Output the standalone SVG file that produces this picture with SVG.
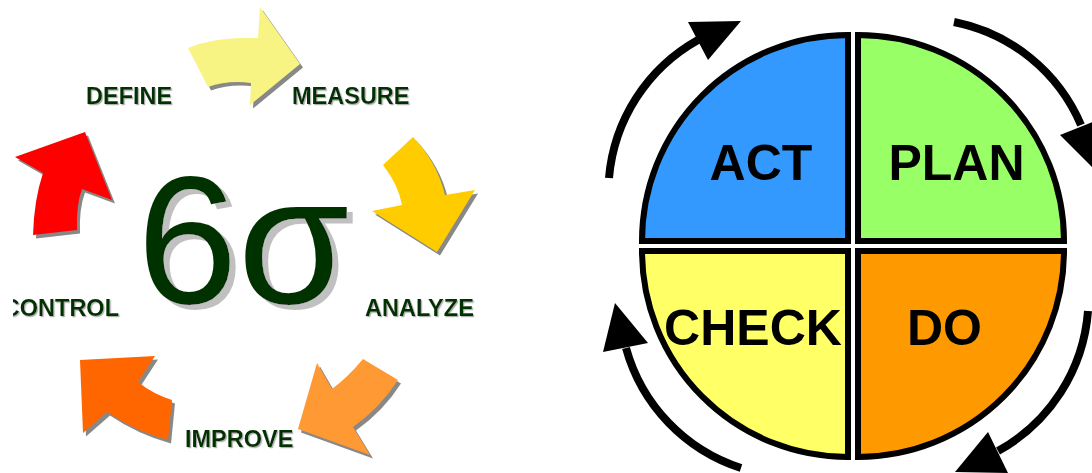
<svg xmlns="http://www.w3.org/2000/svg" xmlns:xlink="http://www.w3.org/1999/xlink" width="1092" height="473" viewBox="0 0 1092 473">
  <style>
    .lbl { font-family: "Liberation Sans", Arial, sans-serif; font-weight: bold; font-size: 23.5px; fill: #003300; filter: url(#lbl-shadow); }
    .sigma { font-family: "Liberation Sans", Arial, sans-serif; font-size: 181px; fill: #003300; filter: url(#sigma-shadow); }
    .quad { stroke: #000; stroke-width: 6; stroke-linejoin: miter; }
    .qlbl { font-family: "Liberation Sans", Arial, sans-serif; font-weight: bold; font-size: 50px; fill: #000; text-anchor: middle; }
    .shaft { fill: none; stroke: #000; stroke-width: 8; }
    .head { fill: #000; }
    .shadow { fill: #888888; }
  </style>
  <defs>
    <filter id="lbl-shadow" x="-10%" y="-20%" width="120%" height="150%">
      <feDropShadow dx="1.2" dy="1.2" stdDeviation="0.3" flood-color="#b0b0b0" flood-opacity="1"/>
    </filter>
    <filter id="sigma-shadow" x="-10%" y="-10%" width="130%" height="130%">
      <feDropShadow dx="6" dy="5" stdDeviation="0" flood-color="#c0c0c0" flood-opacity="1"/>
    </filter>
    <path id="arr-yellow" d="M 188 48 Q 218 36 258 38 L 260 7 L 300 64 L 250 105 L 251 83 Q 228 80 208 87 Z"/>
    <path id="arr-gold" d="M 383 165 L 413 137 Q 437 162 445 195 L 475 190 L 437 252 L 372 211 L 402 205 Q 398 184 383 165 Z"/>
    <path id="arr-lorange" d="M 363 359 L 398 380 Q 380 408 353 427 L 370 455 L 298 429 L 317 363 L 332 389 Q 348 377 363 359 Z"/>
    <path id="arr-dorange" d="M 80 360 L 155 356 L 138 382 Q 153 394 172 400 L 168 440 Q 135 431 107 412 L 83 433 Z"/>
    <path id="arr-red" d="M 33 235 Q 34 200 43 173 L 15 157 L 85 132 L 112 200 L 82 189 Q 76 205 77 230 Z"/>
    <clipPath id="edge-clip">
      <rect x="13" y="0" width="1079" height="473"/>
    </clipPath>
  </defs>

  <rect x="0" y="0" width="1092" height="473" fill="#ffffff"/>

  <!-- Six Sigma: centre symbol -->
  <g id="six-sigma">
    <text class="sigma" x="137" y="303">6σ</text>
  </g>

  <!-- Six Sigma: phase labels -->
  <g id="define">
    <text class="lbl" x="86" y="104">DEFINE</text>
  </g>
  <g id="measure">
    <text class="lbl" x="292" y="104">MEASURE</text>
  </g>
  <g id="analyze">
    <text class="lbl" x="365" y="316">ANALYZE</text>
  </g>
  <g id="improve">
    <text class="lbl" x="185" y="446.5">IMPROVE</text>
  </g>
  <g id="control" clip-path="url(#edge-clip)">
    <text class="lbl" x="119" y="316" text-anchor="end">CONTROL</text>
  </g>

  <!-- PDCA wheel -->
  <g id="act">
    <path class="quad" fill="#3399ff" d="M 848 241 L 848 35 A 206 206 0 0 0 642 241 Z"/>
    <text class="qlbl" x="761" y="180">ACT</text>
  </g>
  <g id="plan">
    <path class="quad" fill="#99ff66" d="M 858 241 L 858 35 A 206 206 0 0 1 1064 241 Z"/>
    <text class="qlbl" x="956.5" y="180">PLAN</text>
  </g>
  <g id="check">
    <path class="quad" fill="#ffff66" d="M 848 251 L 642 251 A 206 206 0 0 0 848 457 Z"/>
    <text class="qlbl" x="753" y="345">CHECK</text>
  </g>
  <g id="do">
    <path class="quad" fill="#ff9900" d="M 858 251 L 1064 251 A 206 206 0 0 1 858 457 Z"/>
    <text class="qlbl" x="944.5" y="345">DO</text>
  </g>

  <g id="connectors">
    <!-- Six Sigma cycle: block arrows with drop shadows -->
    <g transform="translate(3,3.5)" class="shadow">
      <use xlink:href="#arr-yellow"/>
      <use xlink:href="#arr-gold"/>
      <use xlink:href="#arr-lorange"/>
      <use xlink:href="#arr-dorange"/>
      <use xlink:href="#arr-red"/>
    </g>
    <use xlink:href="#arr-yellow" fill="#f8f484"/>
    <use xlink:href="#arr-gold" fill="#ffcc00"/>
    <use xlink:href="#arr-lorange" fill="#ff9933"/>
    <use xlink:href="#arr-dorange" fill="#ff6600"/>
    <use xlink:href="#arr-red" fill="#ff0000"/>

    <!-- PDCA cycle: clockwise arcs -->
    <path class="shaft" d="M 609 178 A 175 175 0 0 1 698 40"/>
    <polygon class="head" points="688,22 741,21 708,60"/>
    <path class="shaft" d="M 954 22 A 175 175 0 0 1 1081 125"/>
    <polygon class="head" points="1060,135 1105,117 1100,175"/>
    <path class="shaft" d="M 1088 311 A 175 175 0 0 1 998 451"/>
    <polygon class="head" points="988,432 1008,473 955,472"/>
    <path class="shaft" d="M 741 468 A 175 175 0 0 1 626 348"/>
    <polygon class="head" points="648,343 603,352 615,303"/>
  </g>
</svg>
